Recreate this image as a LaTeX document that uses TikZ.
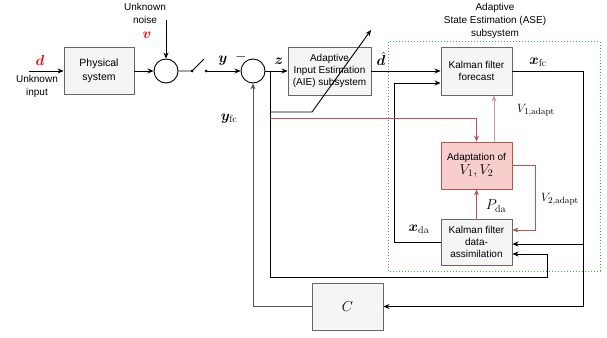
\documentclass[tikz,border=0pt]{standalone}
\usepackage[no-math]{fontspec}
\setmainfont{Liberation Sans}
\usepackage{amsmath,bm}
\usetikzlibrary{arrows.meta}
\definecolor{boxfill}{HTML}{F5F5F5}
\definecolor{boxline}{HTML}{666666}
\definecolor{adred}{HTML}{B85450}
\definecolor{adfill}{HTML}{F8CECC}
\definecolor{lightred}{HTML}{D99593}
\definecolor{dotgreen}{HTML}{33BB33}
\definecolor{loopgray}{HTML}{555555}
\begin{document}
\begin{tikzpicture}[x=1pt,y=-1pt,
  blk/.style={draw=boxline, fill=boxfill, line width=0.9pt, align=center, inner sep=1pt,
    font=\fontsize{10}{12}\selectfont},
  sumc/.style={circle, draw, line width=0.9pt, minimum size=24pt, inner sep=0pt},
  conn/.style={draw, line width=0.9pt, -{Stealth[length=6pt,width=5pt]}},
  plain/.style={draw, line width=0.9pt},
  rconn/.style={draw=adred, line width=0.9pt, -{Stealth[length=6pt,width=5pt]}},
  lbl/.style={align=center, inner sep=0pt, font=\fontsize{10}{13}\selectfont},
  mlbl/.style={inner sep=0pt, font=\fontsize{14.5}{16}\selectfont},
  dotnode/.style={circle, fill, inner sep=0pt, minimum size=3pt}
]
\useasboundingbox (0,0) rectangle (607,337);

% ASE dotted frame
\draw[dotgreen, line width=1pt, dotted] (388,42) rectangle (600,271);
\node[lbl] (asetitle) at (495,21) {Adaptive\\State Estimation (ASE)\\subsystem};

% blocks
\node[blk, minimum width=70pt, minimum height=47pt, font=\fontsize{10.5}{14}\selectfont] (phys) at (99,71) {Physical\\system};
\node[sumc] (c1) at (166,71) {};
\node[sumc] (c2) at (253,71) {};
\node[blk, minimum width=83pt, minimum height=48pt] (aie) at (329.5,71) {Adaptive\\Input Estimation\\(AIE) subsystem};
\node[blk, minimum width=71pt, minimum height=48pt] (kff) at (476.5,71) {Kalman filter\\forecast};
\node[blk, draw=adred, fill=adfill, minimum width=71pt, minimum height=47pt] (adp) at (476.5,165.5) {Adaptation of\\[2pt]\fontsize{14}{15}\selectfont$V_1,V_2$};
\node[blk, minimum width=71pt, minimum height=46pt] (kfd) at (476.5,242) {Kalman filter\\data-\\assimilation};
\node[blk, minimum width=71pt, minimum height=47pt, font=\fontsize{15}{16}\selectfont] (cb) at (347.5,306.5) {$C$};

% coordinates
\coordinate (din) at (29,71);
\coordinate (nz) at (166,20);
\coordinate (sw1) at (192,71);
\coordinate (sw2) at (206,71);
\coordinate (lev) at (204,59);
\coordinate (jz) at (270,71);

% switch dots
\node[dotnode] (d1) at (sw1) {};
\node[dotnode] (d2) at (sw2) {};

% main path
\draw[conn] (din) -- (phys.west);
\draw[conn] (phys.east) -- (c1.west);
\draw[conn] (nz) -- (c1.north);
\draw[plain] (c1.east) -- (sw1) -- (lev);
\draw[conn] (sw2) -- (c2.west);
\draw[conn] (c2.east) -- (aie.west);
\draw[conn] (aie.east) -- (kff.west);

% forecast output
\draw[conn] (kff.east) -- (583,71) -- (583,306.5) -- (cb.east);
\draw[conn] (583,244) -- (kfd.east |- 0,244);
\draw[conn, loopgray] (cb.west) -- (253,306.5) -- (c2.south);

% z to kfd
\draw[conn] (jz) -- (270,277) -- (547,277) -- (547,254) -- (kfd.east |- 0,254);

% adaptive arrow across AIE
\draw[conn] (270,112) -- (312,112) -- (371,30);

% x_da loop
\draw[conn] (kfd.west) -- (394,242) -- (394,83) -- (kff.west |- 0,83);

% red connectors
\draw[rconn] (270,118) -- (476.5,118) -- (adp.north);
\draw[rconn, lightred] (adp.north -| 494,0) -- (kff.south -| 494,0);
\draw[rconn] (kfd.north) -- (adp.south);
\draw[rconn] (adp.east) -- (535,165.5) -- (535,230) -- (kfd.east |- 0,230);

% labels
\node[mlbl, red] (ld) at (40,60) {$\bm{d}$};
\node[lbl] (lin) at (37,86) {Unknown\\input};
\node[lbl] (lnz) at (145,13) {Unknown\\noise};
\node[mlbl, red] (lv) at (147,35) {$\bm{v}$};
\node[mlbl] (ly) at (223,61) {$\bm{y}$};
\node[mlbl] (lminus) at (241,57) {$-$};
\node[mlbl] (lz) at (279,61) {$\bm{z}$};
\node[mlbl] (lyfc) at (229,119) {$\bm{y}_{\mathrm{fc}}$};
\node[mlbl] (ldh) at (381,59) {$\hat{\bm{d}}$};
\node[mlbl] (lxfc) at (538,62) {$\bm{x}_{\mathrm{fc}}$};
\node[mlbl, font=\fontsize{13}{15}\selectfont] (lv1) at (536,110) {$V_{1,\mathrm{adapt}}$};
\node[mlbl] (lpda) at (496,206) {$P_{\mathrm{da}}$};
\node[mlbl, font=\fontsize{13}{15}\selectfont] (lv2) at (560,199) {$V_{2,\mathrm{adapt}}$};
\node[mlbl] (lxda) at (419,229) {$\bm{x}_{\mathrm{da}}$};
\end{tikzpicture}
\end{document}
